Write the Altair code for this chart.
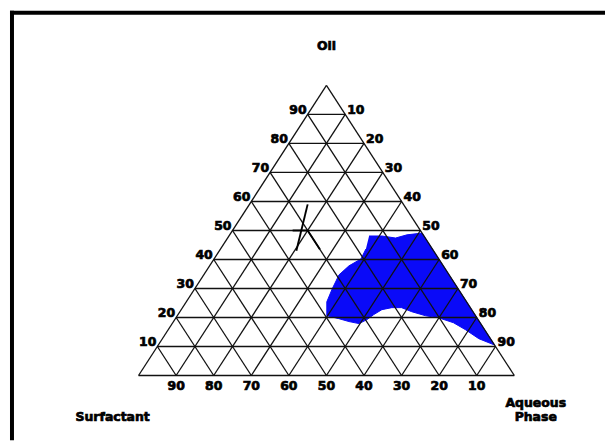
import altair as alt
import pandas as pd

# ---- values (ternary percentages) ----
ticks = [10, 20, 30, 40, 50, 60, 70, 80, 90]
oil_labels = [90, 80, 70, 60, 50, 40, 30, 20, 10]        # left side
aqueous_labels = [10, 20, 30, 40, 50, 60, 70, 80, 90]    # right side
surfactant_labels = [90, 80, 70, 60, 50, 40, 30, 20, 10]  # bottom

# blue (microemulsion) region outline, as oil % and aqueous %
region_oil = [48.1, 48.1, 47.4, 48.5, 49.1, 10.5, 12.7, 15.8, 18.2, 19.9, 20.6,
              22.0, 23.4, 23.4, 22.7, 21.0, 19.2, 17.9, 18.6, 19.6, 20.6, 25.4,
              29.9, 34.7, 37.8, 40.2, 43.6]
region_aq = [37.3, 40.7, 44.7, 47.2, 50.9, 89.5, 84.2, 79.1, 74.7, 69.9, 66.1,
             61.7, 58.3, 55.7, 53.4, 52.1, 51.1, 49.7, 46.7, 43.5, 39.8, 37.4,
             36.6, 36.0, 37.1, 39.1, 38.7]

# darker scan strokes near the 50 % node (oil %, aqueous %) start / end
stroke_oil1 = [43.0, 50.0, 50.0]
stroke_aq1 = [20.5, 20.0, 16.0]
stroke_oil2 = [59.0, 43.5, 50.0]
stroke_aq2 = [15.5, 26.5, 20.0]


def to_x(oil, aq):
    return aq + oil / 2.0


# ---- tables ----
region = pd.DataFrame({
    "i": range(len(region_oil)),
    "x": [to_x(o, a) for o, a in zip(region_oil, region_aq)],
    "y": region_oil,
})

segs = [(0, 0, 100, 0), (0, 0, 50, 100), (100, 0, 50, 100)]
for k in ticks:
    segs.append((k / 2, k, 100 - k / 2, k))                 # constant oil
    segs.append((k, 0, 50 + k / 2, 100 - k))                 # constant aqueous
    segs.append((100 - k, 0, (100 - k) / 2, 100 - k))        # constant surfactant
grid = pd.DataFrame(segs, columns=["x", "y", "x2", "y2"])

strokes = pd.DataFrame({
    "x": [to_x(o, a) for o, a in zip(stroke_oil1, stroke_aq1)],
    "y": stroke_oil1,
    "x2": [to_x(o, a) for o, a in zip(stroke_oil2, stroke_aq2)],
    "y2": stroke_oil2,
})

left_df = pd.DataFrame({"x": [o / 2 for o in oil_labels], "y": oil_labels,
                        "t": [str(o) for o in oil_labels]})
right_df = pd.DataFrame({"x": [50 + a / 2 for a in aqueous_labels],
                         "y": [100 - a for a in aqueous_labels],
                         "t": [str(a) for a in aqueous_labels]})
bottom_df = pd.DataFrame({"x": [100 - s for s in surfactant_labels],
                          "y": [0] * len(surfactant_labels),
                          "t": [str(s) for s in surfactant_labels]})
vertex_df = pd.DataFrame({"x": [50, 0, 100, 100], "y": [100, 0, 0, 0],
                          "t": ["Oil", "Surfactant", "Aqueous", "Phase"],
                          "k": ["o", "s", "a", "p"]})

X = alt.Scale(domain=[0, 100], range=[131, 508])
Y = alt.Scale(domain=[0, 100], range=[366, 75])
FONT = "DejaVu Sans"
FS = 12.5

blue = alt.Chart(region).mark_line(
    fill="#0a0af8", stroke="#0a0af8", strokeWidth=1, fillOpacity=1
).encode(
    x=alt.X("x:Q", scale=X, axis=None),
    y=alt.Y("y:Q", scale=Y, axis=None),
    order="i:O",
)

grid_layer = alt.Chart(grid).mark_rule(color="#111111", strokeWidth=1.3).encode(
    x=alt.X("x:Q", scale=X, axis=None), y=alt.Y("y:Q", scale=Y, axis=None),
    x2="x2:Q", y2="y2:Q",
)

stroke_layer = alt.Chart(strokes).mark_rule(color="#000000", strokeWidth=1.9).encode(
    x=alt.X("x:Q", scale=X, axis=None), y=alt.Y("y:Q", scale=Y, axis=None),
    x2="x2:Q", y2="y2:Q",
)


def text_layer(df, **kw):
    return alt.Chart(df).mark_text(font=FONT, fontSize=FS, fontWeight="bold",
                                   color="#000000", stroke="#000000",
                                   strokeWidth=0.7, **kw).encode(
        x=alt.X("x:Q", scale=X, axis=None), y=alt.Y("y:Q", scale=Y, axis=None),
        text="t:N",
    )


left_t = text_layer(left_df, align="right", baseline="alphabetic", dx=-1, dy=0)
right_t = text_layer(right_df, align="left", baseline="alphabetic", dx=2, dy=0)
bottom_t = text_layer(bottom_df, align="center", baseline="middle", dy=11)
oil_t = text_layer(vertex_df[vertex_df.k == "o"], align="center", baseline="middle", dy=-40)
surf_t = text_layer(vertex_df[vertex_df.k == "s"], align="center", baseline="middle", dx=-26, dy=42)
aq_t = text_layer(vertex_df[vertex_df.k == "a"], align="center", baseline="middle", dx=21.5, dy=28)
ph_t = text_layer(vertex_df[vertex_df.k == "p"], align="center", baseline="middle", dx=21.5, dy=42)

one = pd.DataFrame({"a": [0]})
frame_left = alt.Chart(one).mark_rule(color="#000000", strokeWidth=4).encode(
    x=alt.value(4), y=alt.value(0), y2=alt.value(431))
frame_top = alt.Chart(one).mark_rule(color="#000000", strokeWidth=4).encode(
    x=alt.value(2), x2=alt.value(599), y=alt.value(2))

chart = alt.layer(
    blue, grid_layer, stroke_layer, left_t, right_t, bottom_t,
    oil_t, surf_t, aq_t, ph_t, frame_left, frame_top,
).properties(width=599, height=431, padding=0, background="#ffffff").configure_view(stroke=None)

chart.save("out.html", embed_options={"renderer": "svg", "actions": False})
